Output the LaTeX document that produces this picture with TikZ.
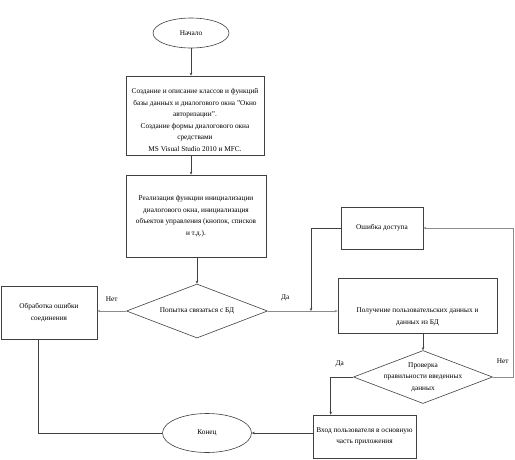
\documentclass[tikz,border=0pt]{standalone}
\usepackage{fontspec}
\setmainfont{Liberation Serif}
\usepackage{tikz}
\usetikzlibrary{calc,shapes.geometric,arrows.meta,positioning}

\begin{document}
\begin{tikzpicture}[x=1pt,y=-1pt]
  \tikzset{
    block/.style={draw=black!75, fill=white, line width=0.6pt, align=center, inner sep=2pt, font=\fontsize{7.3}{11.5}\selectfont},
    term/.style={ellipse, draw=black!75, line width=0.6pt, inner sep=0pt, font=\fontsize{7.3}{11.5}\selectfont},
    cond/.style={diamond, aspect=2.6, draw=black!75, line width=0.6pt, inner sep=-6pt, align=center, font=\fontsize{7.3}{11.5}\selectfont},
    arr/.style={-{Stealth[length=3pt,width=2.5pt]}, black!75, line width=0.6pt},
    arrl/.style={-{Stealth[length=3pt,width=2.5pt]}, black!45, line width=0.7pt},
    line/.style={black!75, line width=0.6pt},
    lbl/.style={text=black, font=\fontsize{7.3}{9}\selectfont}
  }
  \useasboundingbox (0,0) rectangle (515,459);

  % main column
  \node[term, minimum width=76, minimum height=30] (start) at (191,33) {Начало};
  \node[block, minimum width=138, minimum height=79] (create) at (195,115.5)
    {\rule{0pt}{14pt}Создание и описание классов и функций\\
     базы данных и диалогового окна "Окно\\
     авторизации".\\
     Создание формы диалогового окна\\
     средствами\\
     MS Visual Studio 2010 и MFC.};
  \node[block, minimum width=140, minimum height=82] (init) at (196,216)
    {Реализация функции инициализации\\
     диалогового окна, инициализация\\
     объектов управления (кнопок, списков\\
     и т.д.).};
  \node[cond, minimum width=141, minimum height=54] (connect) at (197,311)
    {Попытка связаться с БД};

  % left branch
  \node[block, minimum width=96, minimum height=53] (fail) at (49,312.5)
    {Обработка ошибки\\соединения};
  \node[term, minimum width=89, minimum height=39] (end) at (207,433) {Конец};

  % right branch
  \node[block, minimum width=82, minimum height=42] (denied) at (382,228) {Ошибка доступа};
  \node[block, minimum width=159, minimum height=55] (fetch) at (417.5,305.5)
    {\rule{0pt}{28pt}Получение пользовательских данных и\\данных из БД};
  \node[cond, minimum width=139, minimum height=53] (check) at (423,377)
    {Проверка\\правильности введенных\\данных};
  \node[block, minimum width=103, minimum height=43] (enter) at (364.5,436.5)
    {Вход пользователя в основную\\часть приложения};

  \coordinate (join) at (311,311);

  % connectors
  \draw[arr] (start.south) -- (start.south |- create.north);
  \draw[arr] (create.south -| start.south) -- (init.north -| start.south);
  \draw[arr] (init.south -| connect.north) -- (connect.north);
  \draw[arrl] (connect.west) -- node[lbl, above=6pt, pos=0.5] {Нет} (fail.east |- connect.west);
  \draw[arrl] (connect.east) -- node[lbl, above=6pt, pos=0.25] {Да} (fetch.west |- connect.east);
  \draw[line] ($(fail.south west)+(38,0)$) |- (end.west);
  \draw[arr] (enter.west |- end.east) -- (end.east);
  \draw[arr] (denied.west) -| (join);
  \draw[arr] (fetch.south -| check.north) -- (check.north);
  \draw[arr] (check.west) -| node[lbl, above=6pt, pos=0.3] {Да} ($(enter.north west)+(18,0)$);
  \draw[arrl] (check.east) -- ++(20.5,0) node[lbl, anchor=south east, xshift=-1pt, yshift=10pt] {Нет} |- (denied.east);
\end{tikzpicture}
\end{document}
